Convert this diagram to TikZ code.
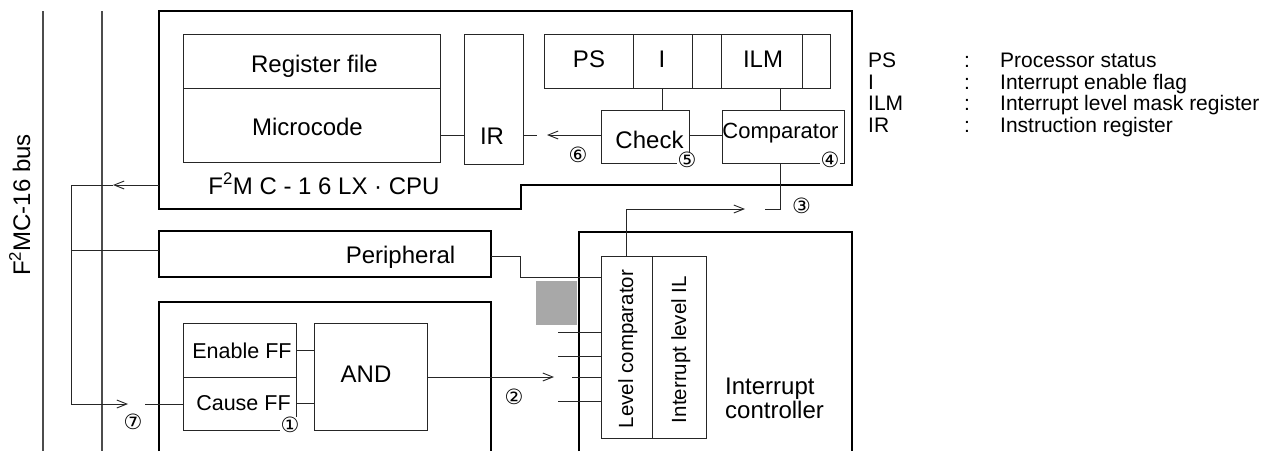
\documentclass[tikz,border=0pt]{standalone}
\usepackage{fontspec}
\setmainfont{Liberation Sans}
\newfontfamily\circfont{DejaVu Sans}
\usetikzlibrary{arrows.meta}
\begin{document}
\begin{tikzpicture}[x=1pt,y=-1pt,
  outer/.style={draw=black, line width=1.2pt},
  box/.style={draw=black!85, line width=1pt, rectangle, inner sep=0pt, outer sep=0pt},
  wire/.style={draw=black!85, line width=0.9pt},
  arr/.style={wire, -{Straight Barb[length=10pt,width=8pt]}},
  bus/.style={draw=black!70, line width=1.1pt},
  lbl/.style={inner sep=0pt, anchor=base, font=\fontsize{24}{24}\selectfont},
  lgd/.style={inner sep=0pt, anchor=base west, font=\fontsize{21}{21}\selectfont},
  circ/.style={inner sep=0.3pt, fill=white, font=\circfont\fontsize{21}{21}\selectfont}]
\useasboundingbox (0,0) rectangle (1264,451);

% bus lines
\coordinate (b1t) at (43,11); \coordinate (b1b) at (43,451);
\coordinate (b2t) at (102,11); \coordinate (b2b) at (102,451);
\draw[bus] (b1t) -- (b1b);
\draw[bus] (b2t) -- (b2b);
\node[lbl, rotate=90] (buslbl) at (30,205) {F\textsuperscript{2}MC-16 bus};

% CPU outline
\coordinate (cpuL) at (159,185);
\draw[outer] (159,11) -- (852,11) -- (852,185) -- (521,185) -- (521,209) -- (159,209) -- cycle;

% CPU internals
\node[box, minimum width=257pt, minimum height=54pt] (regfile) at (311.5,61) {};
\node[box, minimum width=257pt, minimum height=74pt] (microcode) at (311.5,125) {};
\node[box, minimum width=59pt, minimum height=130pt] (ir) at (493.5,99) {};
\node[box, minimum width=89pt, minimum height=54pt] (ps) at (588.5,61) {};
\node[box, minimum width=59pt, minimum height=54pt] (iflag) at (662.5,61) {};
\node[box, minimum width=29pt, minimum height=54pt] (blank1) at (706.5,61) {};
\node[box, minimum width=81pt, minimum height=54pt] (ilm) at (761.5,61) {};
\node[box, minimum width=28pt, minimum height=54pt] (blank2) at (816,61) {};
\node[box, minimum width=88pt, minimum height=53pt] (check) at (645,136.5) {};
\node[box, minimum width=122pt, minimum height=53pt] (comp) at (783,136.5) {};

\node[lbl] (tregfile) at (314.5,72.5) {Register file};
\node[lbl] (tmicro) at (307.5,135) {Microcode};
\node[lbl] (tir) at (492,144) {IR};
\node[lbl] (tcpu) at (324,194) {F\textsuperscript{2}M C - 1 6 LX · CPU};
\node[lbl] (tps) at (589,67) {PS};
\node[lbl] (ti) at (662,67) {I};
\node[lbl] (tilm) at (763,67) {ILM};
\node[lbl] (tcheck) at (649.5,148) {Check};
\node[lbl, font=\fontsize{22}{22}\selectfont] (tcomp) at (780.5,138) {Comparator};

% CPU wiring
\coordinate (r6) at (0,135);
\coordinate (t6) at (547,135);
\coordinate (s6) at (537,135);
\coordinate (ilmx) at (780,0);
\coordinate (s3) at (765,209);
\coordinate (t3) at (745,209);
\draw[wire] (microcode.east |- r6) -- (ir.west |- r6);
\draw[arr] (check.west |- r6) -- (t6);
\draw[wire] (ir.east |- r6) -- (s6);
\draw[wire] (iflag.south) -- (iflag.south |- check.north);
\draw[wire] (ilm.south -| ilmx) -- (comp.north -| ilmx);
\draw[wire] (check.east |- r6) -- (comp.west |- r6);
\draw[wire] (comp.south -| ilmx) |- (s3);

% Legend
\node[lgd] (l1a) at (868,67.5) {PS};
\node[lgd] (l2a) at (868,89) {I};
\node[lgd] (l3a) at (868,110.5) {ILM};
\node[lgd] (l4a) at (868,132) {IR};
\node[lgd] (l1b) at (964,67.5) {:};
\node[lgd] (l2b) at (964,89) {:};
\node[lgd] (l3b) at (964,110.5) {:};
\node[lgd] (l4b) at (964,132) {:};
\node[lgd] (l1c) at (1000,67.5) {Processor status};
\node[lgd] (l2c) at (1000,89) {Interrupt enable flag};
\node[lgd] (l3c) at (1000,110.5) {Interrupt level mask register};
\node[lgd] (l4c) at (1000,132) {Instruction register};

% Peripheral
\node[box, draw=black, line width=1.2pt, minimum width=332pt, minimum height=46pt] (periph) at (325,254) {};
\node[lbl] (tperiph) at (400.5,263) {Peripheral};

% Lower (interrupt source) block
\draw[outer] (159,451) -- (159,302) -- (491,302) -- (491,451);
\node[box, minimum width=113pt, minimum height=54pt] (enable) at (239.5,350) {};
\node[box, minimum width=113pt, minimum height=53pt] (cause) at (239.5,403.5) {};
\node[box, minimum width=113pt, minimum height=107pt] (andg) at (370.5,376.5) {};
\node[lbl, font=\fontsize{21.5}{21.5}\selectfont] (tenable) at (242,358) {Enable FF};
\node[lbl, font=\fontsize{21.5}{21.5}\selectfont] (tcause) at (243.5,410) {Cause FF};
\node[lbl] (tand) at (366,382) {AND};

% Interrupt controller
\draw[outer] (579,451) -- (579,232) -- (852,232) -- (852,451);
\node[box, minimum width=51pt, minimum height=182pt] (levelc) at (626.5,347) {};
\node[box, minimum width=54pt, minimum height=182pt] (intl) at (679,347) {};
\node[lbl, rotate=90, font=\fontsize{20.5}{20.5}\selectfont] (tlevelc) at (633,349) {Level comparator};
\node[lbl, rotate=90, font=\fontsize{20.5}{20.5}\selectfont] (tintl) at (686,349.5) {Interrupt level IL};
\node[lbl, anchor=base west] (tic1) at (725,394) {Interrupt};
\node[lbl, anchor=base west] (tic2) at (725,418) {controller};
\node[fill=black!34, minimum width=41pt, minimum height=44pt, inner sep=0pt] (grayblk) at (556.5,303) {};

% connections
\draw[arr] (levelc.north) |- (t3);
\coordinate (t1) at (113,185);
\coordinate (lpt) at (71,185);
\coordinate (t7) at (128,404);
\coordinate (s7) at (145,404);
\coordinate (pl) at (71,250);
\draw[arr] (cpuL) -- (t1);
\draw[arr] (t1) -- (lpt) |- (t7);
\draw[wire] (pl) -- (periph.west |- pl);
\draw[wire] (s7) -- (cause.west |- s7);
\draw[wire] (enable.east) -- (andg.west |- enable.east);
\draw[wire] (cause.east) -- (andg.west |- cause.east);
\coordinate (t2) at (554,377);
\draw[arr] (andg.east |- t2) -- (t2);
\coordinate (in1) at (558,332);
\coordinate (in2) at (558,356);
\coordinate (in3) at (572,377);
\coordinate (in4) at (558,401);
\draw[wire] (in1) -- (levelc.west |- in1);
\draw[wire] (in2) -- (levelc.west |- in2);
\draw[wire] (in3) -- (levelc.west |- in3);
\draw[wire] (in4) -- (levelc.west |- in4);
\coordinate (pr) at (520,256);
\coordinate (pk) at (520,277);
\draw[wire] (periph.east |- pr) -- (pr) -- (pk) -- (levelc.west |- pk);

% circled numbers
\node[circ] (n1) at (290,425) {①};
\node[circ] (n2) at (514,397) {②};
\node[circ] (n3) at (801.5,205.5) {③};
\node[circ] (n4) at (830,160) {④};
\node[circ] (n5) at (687,160) {⑤};
\node[circ] (n6) at (578,155) {⑥};
\node[circ] (n7) at (133,422) {⑦};
\end{tikzpicture}
\end{document}
